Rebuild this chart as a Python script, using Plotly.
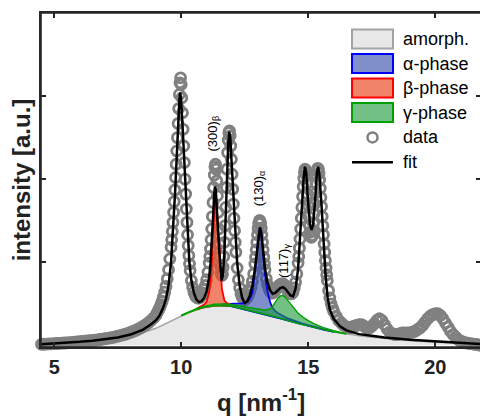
import plotly.graph_objects as go

# ---------------- data ----------------
# shared q grid for the amorphous halo and the crystalline phase components
q_comp = [4.5, 5.0, 5.5, 6.0, 6.5, 7.0, 7.5, 8.0, 8.5, 9.0,
          9.5, 10.0, 10.3, 10.6, 10.8, 10.9, 11.0, 11.1, 11.15, 11.2,
          11.25, 11.3, 11.33, 11.36, 11.4, 11.45, 11.5, 11.55, 11.6, 11.7,
          11.8, 12.0, 12.2, 12.4, 12.6, 12.7, 12.8, 12.9, 12.95, 13.0,
          13.05, 13.1, 13.15, 13.2, 13.25, 13.3, 13.4, 13.5, 13.6, 13.7,
          13.8, 13.9, 14.0, 14.1, 14.2, 14.3, 14.4, 14.5, 14.6, 14.8,
          15.0, 15.3, 15.6, 16.0, 16.5, 17.0, 17.5, 18.0, 19.0, 20.0,
          21.0, 21.8]
amorph = [0.005, 0.015, 0.025, 0.035, 0.05, 0.065, 0.085, 0.115, 0.155, 0.205,
          0.28, 0.355, 0.395, 0.43, 0.45, 0.457, 0.463, 0.468, 0.47, 0.472,
          0.474, 0.476, 0.477, 0.478, 0.479, 0.48, 0.48, 0.48, 0.48, 0.479,
          0.477, 0.47, 0.458, 0.445, 0.43, 0.422, 0.414, 0.406, 0.402, 0.398,
          0.394, 0.39, 0.386, 0.382, 0.378, 0.374, 0.366, 0.358, 0.35, 0.342,
          0.334, 0.324, 0.316, 0.307, 0.298, 0.29, 0.28, 0.27, 0.262, 0.247,
          0.232, 0.21, 0.188, 0.162, 0.137, 0.115, 0.097, 0.082, 0.058, 0.038,
          0.022, 0.012]
alpha_phase = [0, 0, 0, 0, 0, 0, 0, 0, 0, 0,
               0, 0, 0, 0, 0, 0, 0, 0, 0, 0,
               0, 0, 0, 0, 0, 0, 0, 0, 0.015, 0.017,
               0.02, 0.028, 0.04, 0.06, 0.1, 0.14, 0.22, 0.45, 0.6, 0.78,
               0.95, 1.02, 0.95, 0.8, 0.62, 0.47, 0.28, 0.16, 0.1, 0.07,
               0.055, 0.045, 0.037, 0.031, 0.027, 0.023, 0.02, 0.018, 0.016, 0.013,
               0.011, 0.009, 0.007, 0.005, 0, 0, 0, 0, 0, 0,
               0, 0]
beta_phase = [0, 0, 0, 0, 0, 0, 0, 0, 0, 0,
              0, 0, 0, 0.01, 0.02, 0.035, 0.06, 0.18, 0.32, 0.52,
              0.85, 1.2, 1.33, 1.3, 1.15, 0.92, 0.72, 0.45, 0.2, 0.06,
              0.03, 0.015, 0, 0, 0, 0, 0, 0, 0, 0,
              0, 0, 0, 0, 0, 0, 0, 0, 0, 0,
              0, 0, 0, 0, 0, 0, 0, 0, 0, 0,
              0, 0, 0, 0, 0, 0, 0, 0, 0, 0,
              0, 0]
gamma_phase = [0, 0, 0, 0, 0, 0, 0, 0, 0, 0,
               0, 0.008, 0.01, 0.012, 0.013, 0.014, 0.015, 0.016, 0.016, 0.017,
               0.017, 0.018, 0.018, 0.018, 0.019, 0.019, 0.019, 0.019, 0.02, 0.02,
               0.02, 0.02, 0.022, 0.025, 0.028, 0.03, 0.032, 0.034, 0.035, 0.037,
               0.039, 0.041, 0.043, 0.045, 0.048, 0.052, 0.062, 0.08, 0.12, 0.18,
               0.23, 0.27, 0.285, 0.27, 0.24, 0.21, 0.18, 0.15, 0.125, 0.09,
               0.065, 0.04, 0.025, 0.015, 0.008, 0, 0, 0, 0, 0,
               0, 0]

# total fit curve
q_fit = [4.5, 5.0, 5.5, 6.0, 6.5, 7.0, 7.5, 8.0, 8.5, 8.8,
         9.0, 9.15, 9.3, 9.4, 9.5, 9.6, 9.69, 9.76, 9.82, 9.88,
         9.93, 9.96, 9.99, 10.05, 10.12, 10.18, 10.25, 10.32, 10.4, 10.5,
         10.6, 10.7, 10.8, 10.9, 11.0, 11.1, 11.15, 11.2, 11.25, 11.3,
         11.33, 11.36, 11.4, 11.45, 11.5, 11.55, 11.59, 11.64, 11.7, 11.75,
         11.8, 11.85, 11.89, 11.93, 11.98, 12.05, 12.11, 12.2, 12.3, 12.4,
         12.5, 12.6, 12.7, 12.8, 12.9, 12.95, 13.0, 13.05, 13.1, 13.15,
         13.2, 13.25, 13.3, 13.4, 13.5, 13.6, 13.7, 13.8, 13.9, 14.0,
         14.1, 14.2, 14.3, 14.4, 14.5, 14.6, 14.67, 14.75, 14.82, 14.87,
         14.92, 15.0, 15.07, 15.13, 15.19, 15.26, 15.34, 15.39, 15.44, 15.52,
         15.6, 15.68, 15.76, 15.85, 16.0, 16.25, 16.5, 17.0, 17.5, 18.0,
         19.0, 20.0, 21.0, 21.8]
i_fit = [0.012, 0.02, 0.03, 0.042, 0.056, 0.073, 0.095, 0.13, 0.19, 0.25,
         0.3, 0.36, 0.46, 0.56, 0.72, 1.0, 1.43, 1.85, 2.25, 2.7,
         2.97, 3.04, 2.97, 2.65, 2.23, 1.8, 1.35, 1.0, 0.78, 0.63,
         0.55, 0.52, 0.53, 0.57, 0.65, 0.82, 0.98, 1.2, 1.52, 1.83,
         1.91, 1.87, 1.7, 1.38, 1.12, 0.88, 0.78, 0.85, 1.12, 1.55,
         2.05, 2.42, 2.57, 2.5, 2.22, 1.78, 1.43, 1.0, 0.72, 0.57,
         0.51, 0.53, 0.6, 0.72, 0.92, 1.06, 1.2, 1.34, 1.42, 1.36,
         1.22, 1.06, 0.92, 0.75, 0.66, 0.62, 0.63, 0.66, 0.69, 0.7,
         0.68, 0.64, 0.6, 0.59, 0.68, 0.92, 1.27, 1.72, 2.02, 2.15,
         2.08, 1.7, 1.45, 1.39, 1.45, 1.7, 2.08, 2.15, 2.05, 1.7,
         1.25, 0.85, 0.58, 0.43, 0.32, 0.23, 0.18, 0.135, 0.115, 0.095,
         0.066, 0.045, 0.028, 0.016]

# measured data points
q_data = [4.5, 4.6, 4.7, 4.8, 4.9, 5.0, 5.1, 5.2, 5.3, 5.4,
          5.5, 5.6, 5.7, 5.8, 5.9, 6.0, 6.1, 6.2, 6.3, 6.4,
          6.5, 6.6, 6.7, 6.8, 6.9, 7.0, 7.1, 7.2, 7.3, 7.4,
          7.5, 7.6, 7.7, 7.8, 7.9, 8.0, 8.1, 8.2, 8.3, 8.4,
          8.5, 8.6, 8.7, 8.8, 8.9, 9.0,
          9.05, 9.1, 9.15, 9.2, 9.25, 9.3, 9.35, 9.4, 9.45, 9.5, 9.55, 9.6,
          9.625, 9.65, 9.675, 9.7, 9.725, 9.75, 9.775, 9.8, 9.825, 9.85, 9.875, 9.9, 9.925, 9.95, 9.975, 10.0,
          10.025, 10.05, 10.075, 10.1, 10.125, 10.15, 10.175, 10.2, 10.225, 10.25, 10.275, 10.3, 10.325, 10.35,
          10.4, 10.45, 10.5, 10.55, 10.6, 10.65, 10.7, 10.75, 10.8, 10.85, 10.9, 10.95, 11.0, 11.05, 11.1,
          11.125, 11.15, 11.175, 11.2, 11.225, 11.25, 11.275, 11.3, 11.325, 11.35, 11.375, 11.4, 11.425, 11.45, 11.475, 11.5,
          11.525, 11.55, 11.575, 11.6, 11.625, 11.65, 11.675, 11.7, 11.725, 11.75, 11.775, 11.8, 11.825, 11.85, 11.875, 11.9,
          11.925, 11.95, 11.975, 12.0, 12.025, 12.05, 12.075, 12.1, 12.125, 12.15, 12.2, 12.25, 12.3, 12.35, 12.4, 12.45, 12.5, 12.55, 12.6,
          12.65, 12.7, 12.75, 12.8, 12.85, 12.9, 12.925, 12.95, 12.975, 13.0, 13.025, 13.05, 13.075, 13.1, 13.125, 13.15, 13.175, 13.2, 13.225, 13.25, 13.275, 13.3,
          13.35, 13.4, 13.45, 13.5, 13.55, 13.6, 13.65, 13.7, 13.75, 13.8, 13.85, 13.9, 13.95, 14.0, 14.05, 14.1, 14.15, 14.2, 14.25, 14.3, 14.35, 14.4,
          14.45, 14.5, 14.55, 14.6, 14.625, 14.65, 14.675, 14.7, 14.725, 14.75, 14.775, 14.8, 14.825, 14.85, 14.875, 14.9,
          14.925, 14.95, 14.975, 15.0, 15.025, 15.05, 15.075, 15.1, 15.125, 15.15, 15.175, 15.2, 15.225, 15.25, 15.275, 15.3,
          15.325, 15.35, 15.375, 15.4, 15.425, 15.45, 15.475, 15.5, 15.525, 15.55, 15.575, 15.6, 15.625, 15.65, 15.675, 15.7, 15.725, 15.75,
          15.8, 15.85, 15.9, 15.95, 16.0,
          16.1, 16.2, 16.3, 16.4, 16.5, 16.6, 16.7, 16.8, 16.9, 17.0,
          17.1, 17.2, 17.3, 17.4, 17.5, 17.6, 17.7, 17.8, 17.9, 18.0,
          18.1, 18.2, 18.3, 18.4, 18.5, 18.6, 18.7, 18.8, 18.9, 19.0,
          19.1, 19.2, 19.3, 19.4, 19.5, 19.6, 19.7, 19.8, 19.9, 20.0,
          20.1, 20.2, 20.3, 20.4, 20.5, 20.6, 20.7, 20.8, 20.9, 21.0,
          21.1, 21.2, 21.3, 21.4, 21.5, 21.6, 21.7, 21.8]
i_data = [0.012, 0.013, 0.015, 0.017, 0.018, 0.02, 0.022, 0.024, 0.026, 0.028,
          0.03, 0.032, 0.035, 0.037, 0.04, 0.043, 0.046, 0.049, 0.052, 0.055,
          0.058, 0.062, 0.066, 0.07, 0.075, 0.08, 0.085, 0.09, 0.096, 0.103,
          0.11, 0.118, 0.126, 0.135, 0.145, 0.155, 0.167, 0.18, 0.194, 0.21,
          0.228, 0.248, 0.27, 0.295, 0.325, 0.36,
          0.39, 0.42, 0.45, 0.49, 0.53, 0.58, 0.64, 0.71, 0.8, 0.91, 1.04, 1.18,
          1.27, 1.37, 1.48, 1.6, 1.73, 1.87, 2.02, 2.18, 2.34, 2.5, 2.67, 2.85, 3.02, 3.16, 3.22, 3.14,
          2.98, 2.8, 2.6, 2.4, 2.2, 2.0, 1.82, 1.64, 1.48, 1.33, 1.2, 1.08, 0.98, 0.9,
          0.78, 0.7, 0.64, 0.6, 0.58, 0.57, 0.57, 0.58, 0.6, 0.63, 0.67, 0.72, 0.79, 0.88, 0.99,
          1.07, 1.16, 1.27, 1.4, 1.55, 1.72, 1.9, 2.05, 2.15, 2.18, 2.12, 1.98, 1.8, 1.6, 1.4, 1.22,
          1.07, 0.95, 0.87, 0.84, 0.86, 0.94, 1.07, 1.24, 1.44, 1.66, 1.9, 2.12, 2.32, 2.47, 2.56, 2.58,
          2.52, 2.4, 2.24, 2.06, 1.88, 1.7, 1.53, 1.38, 1.24, 1.12, 0.93, 0.79, 0.69, 0.62, 0.58, 0.56, 0.55, 0.56, 0.58,
          0.61, 0.65, 0.7, 0.77, 0.86, 0.98, 1.06, 1.15, 1.24, 1.33, 1.41, 1.47, 1.5, 1.5, 1.47, 1.41, 1.33, 1.24, 1.15, 1.06, 0.98, 0.91,
          0.8, 0.73, 0.68, 0.65, 0.63, 0.63, 0.64, 0.66, 0.68, 0.7, 0.72, 0.73, 0.74, 0.74, 0.73, 0.71, 0.68, 0.65, 0.63, 0.62, 0.62, 0.64,
          0.69, 0.76, 0.86, 0.99, 1.07, 1.17, 1.28, 1.4, 1.53, 1.66, 1.79, 1.91, 2.01, 2.08, 2.12, 2.11,
          2.05, 1.95, 1.82, 1.68, 1.55, 1.44, 1.36, 1.31, 1.3, 1.32, 1.38, 1.47, 1.58, 1.7, 1.83, 1.95,
          2.04, 2.1, 2.13, 2.12, 2.07, 1.99, 1.89, 1.78, 1.67, 1.55, 1.44, 1.33, 1.22, 1.12, 1.02, 0.93, 0.85, 0.78,
          0.66, 0.57, 0.5, 0.45, 0.41,
          0.35, 0.3, 0.27, 0.24, 0.22, 0.21, 0.22, 0.23, 0.24, 0.25,
          0.25, 0.23, 0.21, 0.21, 0.23, 0.26, 0.3, 0.32, 0.3, 0.25,
          0.2, 0.16, 0.14, 0.13, 0.13, 0.14, 0.15, 0.15, 0.15, 0.15,
          0.16, 0.17, 0.19, 0.21, 0.24, 0.28, 0.32, 0.35, 0.37, 0.38,
          0.38, 0.36, 0.32, 0.27, 0.22, 0.17, 0.13, 0.1, 0.07, 0.05,
          0.04, 0.03, 0.025, 0.02, 0.015, 0.01, 0.005, 0.0]

q_ticks = [5, 10, 15, 20]
i_ticks = [1, 2, 3]
legend_labels = ["amorph.", "α-phase", "β-phase", "γ-phase", "data", "fit"]
peak_labels = ["(300)<sub>β</sub>", "(130)<sub>α</sub>", "(117)<sub>γ</sub>"]
peak_label_q = [11.25, 13.06, 14.06]
peak_label_i = [2.55, 1.89, 1.02]

for arr in (amorph, alpha_phase, beta_phase, gamma_phase):
    assert len(arr) == len(q_comp), len(arr)
assert len(i_fit) == len(q_fit), (len(i_fit), len(q_fit))
assert len(i_data) == len(q_data), (len(i_data), len(q_data))

# ---------------- styles ----------------
FONT = "Liberation Sans, Arial, Helvetica, sans-serif"
AX = "#262626"
GRAY_FILL = "#e8e8e8"
GRAY_LINE = "#a3a3a3"
DATA_COL = "#808080"
phase_styles = [
    (alpha_phase, "rgba(50,75,170,0.62)", "#0000ff", 1.8),
    (beta_phase, "rgba(235,80,40,0.70)", "#ff0000", 1.8),
    (gamma_phase, "rgba(30,155,60,0.62)", "#00a000", 1.4),
]

# the page body has an 8 px default margin: the figure is drawn at (8, 8)
OFF = 8
W, H = 488 - OFF, 417 - OFF
# wanted plot-area edges in window pixels
L, R, T, B = 41, 481, 13, 346.7

fig = go.Figure()

# amorphous halo
fig.add_trace(go.Scatter(x=q_comp, y=amorph, mode="lines", fill="tozeroy",
                         fillcolor=GRAY_FILL, line=dict(color=GRAY_LINE, width=1.5),
                         hoverinfo="skip"))

# data points
fig.add_trace(go.Scatter(x=q_data, y=i_data, mode="markers", cliponaxis=False,
                         marker=dict(symbol="circle-open", size=10, color=DATA_COL,
                                     line=dict(width=2.8, color=DATA_COL))))

# crystalline phase components stacked on the halo
for comp, fcol, lcol, lw in phase_styles:
    idx = [k for k, v in enumerate(comp) if v > 0]
    xs = [q_comp[k] for k in idx]
    upper = [amorph[k] + comp[k] for k in idx]
    lower = [amorph[k] for k in idx]
    fig.add_trace(go.Scatter(x=xs + xs[::-1], y=upper + lower[::-1], mode="lines",
                             fill="toself", fillcolor=fcol,
                             line=dict(color=lcol, width=lw), hoverinfo="skip"))

# fit
fig.add_trace(go.Scatter(x=q_fit, y=i_fit, mode="lines",
                         line=dict(color="black", width=2.5)))

# ---------------- custom legend (paper coordinates) ----------------
def px(xp):
    return (xp - L) / (R - L)
def py(yp):
    return (B - yp) / (B - T)

rows = [39, 63.5, 88, 112.5, 137.3, 162]
sw_x0, sw_x1, sw_h = 352, 393, 19
swatch = [(GRAY_FILL, GRAY_LINE)] + [(f, l) for _, f, l, _ in phase_styles]
shapes = [dict(type="rect", xref="paper", yref="paper", x0=0, x1=1, y0=0, y1=1,
               line=dict(color=AX, width=1.6), layer="above")]
for (fcol, lcol), yc in zip(swatch, rows[:4]):
    shapes.append(dict(type="rect", xref="paper", yref="paper",
                       x0=px(sw_x0), x1=px(sw_x1), y0=py(yc + sw_h / 2), y1=py(yc - sw_h / 2),
                       fillcolor=fcol, line=dict(color=lcol, width=2)))
cx = (sw_x0 + sw_x1) / 2
shapes.append(dict(type="circle", xref="paper", yref="paper",
                   x0=px(cx - 5), x1=px(cx + 5), y0=py(rows[4] + 5), y1=py(rows[4] - 5),
                   line=dict(color=DATA_COL, width=2.5)))
shapes.append(dict(type="line", xref="paper", yref="paper",
                   x0=px(sw_x0), x1=px(sw_x1), y0=py(rows[5]), y1=py(rows[5]),
                   line=dict(color="black", width=2.5)))

annotations = []
for lab, yc in zip(legend_labels, rows):
    annotations.append(dict(xref="paper", yref="paper", x=px(401), y=py(yc),
                            xanchor="left", yanchor="middle", text=lab, showarrow=False,
                            font=dict(family=FONT, size=18, color="black")))
for lab, xq, yi in zip(peak_labels, peak_label_q, peak_label_i):
    annotations.append(dict(x=xq, y=yi, xref="x", yref="y", text=lab, textangle=-90,
                            showarrow=False, font=dict(family=FONT, size=13, color="black")))

fig.update_layout(
    width=W, height=H,
    margin=dict(l=L - OFF, r=488 - R, t=T - OFF, b=417 - B),
    paper_bgcolor="white", plot_bgcolor="white",
    showlegend=False,
    font=dict(family=FONT, color="black"),
    shapes=shapes, annotations=annotations,
    xaxis=dict(range=[4.48, 21.8], tickvals=q_ticks, ticks="inside", ticklen=5,
               tickwidth=1.5, tickcolor=AX, showline=True, linecolor=AX, linewidth=1.5,
               mirror="ticks", showgrid=False, zeroline=False, automargin=False,
               tickfont=dict(family=FONT, size=20, weight="bold", color="#222"),
               ticklabelstandoff=1,
               title=dict(text="q [nm<sup>-1</sup>]", standoff=17,
                          font=dict(family=FONT, size=24, weight="bold", color="#222"))),
    yaxis=dict(range=[-0.02, 4.0], tickvals=i_ticks, showticklabels=False,
               ticks="inside", ticklen=5, tickwidth=1.5, tickcolor=AX,
               showline=True, linecolor=AX, linewidth=1.5, mirror="ticks",
               showgrid=False, zeroline=False, automargin=False,
               title=dict(text="intensity [a.u.]", standoff=4,
                          font=dict(family=FONT, size=24, weight="bold", color="#222"))),
)

fig.write_html("out.html")
